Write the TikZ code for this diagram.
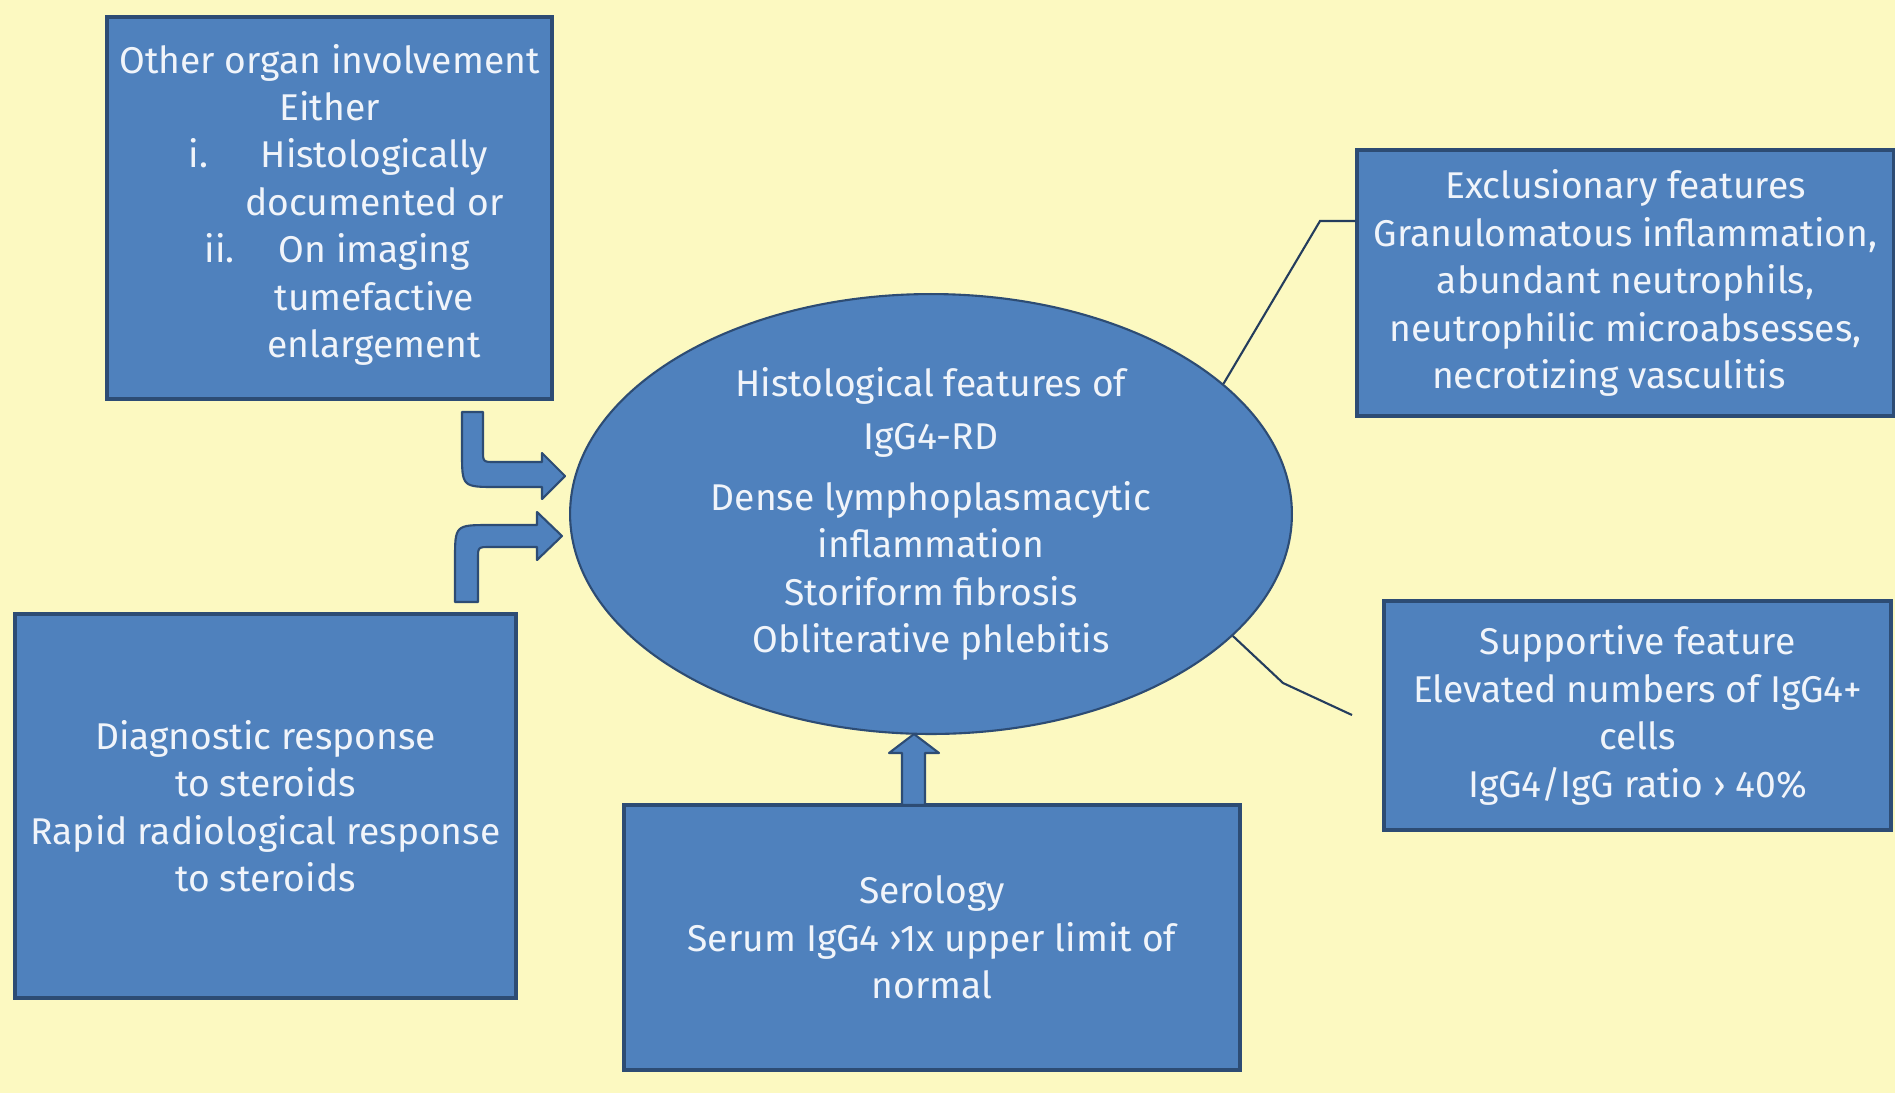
\documentclass[tikz,border=0pt]{standalone}
\usepackage{fontspec}
\setmainfont{Fira Sans}
\usetikzlibrary{shapes.geometric}
\definecolor{bgyellow}{RGB}{252,249,193}
\definecolor{boxblue}{RGB}{79,129,189}
\definecolor{boxedge}{RGB}{45,76,116}
\definecolor{boxtext}{RGB}{240,244,250}
\tikzset{
  box/.style={rectangle, draw=boxedge, line width=1.8pt, fill=boxblue,
    text=boxtext, align=center, inner sep=0pt,
    font=\fontsize{21.2}{27}\selectfont},
  hub/.style={ellipse, draw=boxedge, line width=1.2pt, fill=boxblue,
    text=boxtext, align=center, inner sep=0pt,
    font=\fontsize{21.2}{27}\selectfont},
  fat/.style={draw=boxedge, line width=1.2pt, fill=boxblue, line join=round},
  link/.style={draw=boxedge!80!black, line width=1.2pt}
}
\begin{document}
\begin{tikzpicture}[x=0.02cm,y=-0.02cm]
  \useasboundingbox (0,0) rectangle (1895,1093);
  \fill[bgyellow] (0,0) rectangle (1895,1093);

  \node[hub, minimum width=14.44cm, minimum height=8.8cm] (ell) at (931,514)
    {Histological features of\\[3pt] IgG4-RD\\[8pt]
     Dense lymphoplasmacytic\\ inflammation\\ Storiform fibrosis\\
     Obliterative phlebitis};

  \node[box, minimum width=8.9cm, minimum height=7.64cm] (organ) at (329.5,208)
    {Other organ involvement\\ Either\\
     \hspace*{19pt}\begin{tabular}[t]{@{}l@{\hspace{6pt}}c@{}}
       i. & Histologically\\
          & documented or\\
       \hspace{9pt}ii. & On imaging\\
          & tumefactive\\
          & enlargement
     \end{tabular}};

  \node[box, minimum width=10.74cm, minimum height=5.32cm] (excl) at (1625.5,283)
    {Exclusionary features\\ Granulomatous inflammation,\\
     abundant neutrophils,\\ neutrophilic microabsesses,\\
     necrotizing vasculitis\hspace*{19pt}};

  \node[box, minimum width=10.14cm, minimum height=4.58cm] (supp) at (1637.5,715.5)
    {Supportive feature\\ Elevated numbers of IgG4+\\ cells\\
     IgG4/IgG ratio › 40\%};

  \node[box, minimum width=10.02cm, minimum height=7.68cm] (diag) at (265.5,806)
    {Diagnostic response\\ to steroids\\ Rapid radiological response\\
     to steroids};

  \node[box, minimum width=12.32cm, minimum height=5.3cm] (sero) at (932,937.5)
    {Serology\\ Serum IgG4 ›1x upper limit of\\ normal};

  % thin connectors to the right-hand boxes
  \coordinate (exclbend) at (1320,221);
  \coordinate (suppbend) at (1283,683);
  \coordinate (suppend) at (1352,715);
  \draw[link] (ell.24) -- (exclbend) -- (exclbend -| excl.west);
  \draw[link] (ell.-22.5) -- (suppbend) -- (suppend);

  % block arrows
  \draw[fat] (462,412) -- (483,412) -- (483,450) .. controls (483,462) .. (495,462)
    -- (542,462) -- (542,453) -- (565,476) -- (542,499) -- (542,487)
    -- (497,487) .. controls (462,487) .. (462,452) -- cycle;
  \draw[fat] (455,602) -- (455,560) .. controls (455,525) .. (490,525)
    -- (537,525) -- (537,512) -- (562,536) -- (537,560) -- (537,547)
    -- (490,547) .. controls (478,547) .. (478,559) -- (478,602) -- cycle;
  \draw[fat] (902,805) -- (902,753) -- (889,753) -- (914,734) -- (939,753)
    -- (925,753) -- (925,805) -- cycle;
\end{tikzpicture}
\end{document}
